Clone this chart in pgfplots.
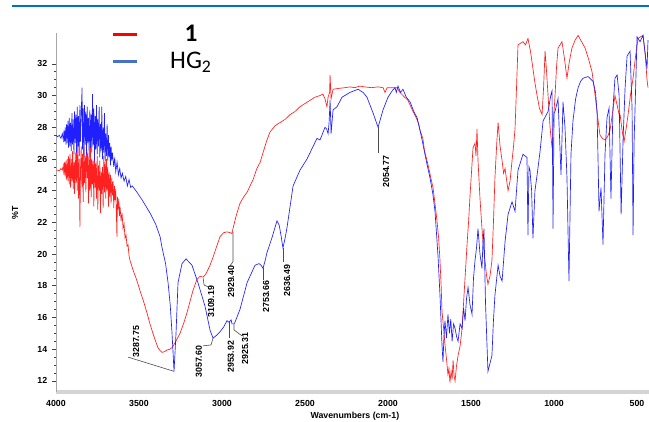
\documentclass[border=0pt]{standalone}
\usepackage{fontspec}
\setmainfont{Liberation Sans}
\newfontfamily\carlito{Carlito}
\usepackage{pgfplots}
\pgfplotsset{compat=1.18}
\definecolor{specred}{HTML}{FF2020}
\definecolor{specblue}{HTML}{2020FF}
\definecolor{legblue}{HTML}{4472C4}
\definecolor{rulebl}{HTML}{0070C0}
\definecolor{axband}{HTML}{D4D4D4}
\tikzset{
  leader/.style={gray!60!black, line width=0.45pt},
  peak/.style={rotate=90, anchor=west, inner sep=0pt, font=\fontsize{6.6}{7}\selectfont\bfseries},
}
\begin{document}
\begin{tikzpicture}
\useasboundingbox (0,0) rectangle (486.75pt,315.75pt);
% journal rule across the top
\draw[rulebl, line width=2.2pt] (9pt,311.25pt) -- (486.75pt,311.25pt);
\begin{axis}[
  at={(42pt,21.75pt)}, anchor=south west,
  scale only axis, width=444.75pt, height=269.25pt,
  x dir=reverse, xmin=428, xmax=4000, ymin=11.3, ymax=33.95,
  axis x line=bottom, axis y line=left,
  x axis line style={-, axband, line width=2.6pt},
  y axis line style={-, gray!70, line width=0.6pt},
  xtick={500,1000,...,4000}, minor x tick num=4,
  ytick={12,14,...,32}, minor y tick num=3,
  xtick align=center, ytick align=outside,
  major tick length=3pt, minor tick length=1.6pt,
  tick style={black!75, line width=0.5pt},
  x tick label style={yshift=-1pt},
  /pgf/number format/assume math mode=true,
  /pgf/number format/1000 sep={},
  tick label style={font=\fontsize{6.6}{7}\selectfont\bfseries},
  label style={font=\fontsize{6.6}{7}\selectfont\bfseries},
  xlabel={Wavenumbers (cm-1)}, ylabel={\%T},
  xlabel style={at={(axis description cs:0.504,-0.067)}, anchor=center},
  ylabel style={at={(axis description cs:-0.069,0.5)}, anchor=center},
  legend image code/.code={\draw[line width=2.2pt] (0pt,0pt) -- (18pt,0pt);},
  legend style={at={(axis description cs:0.094,1.03)}, anchor=north west,
    draw=none, fill=none, inner sep=0pt, row sep=2.5pt,
    font=\fontsize{19}{21}\selectfont\carlito,
    /tikz/every odd column/.append style={column sep=19pt}},
]
\addplot[specred, line width=0.5pt, forget plot] coordinates {
(4000,25.3)(3990,25.3)(3980,25.25)(3970,25.4)(3962,25.3)(3956,25.6)(3952,25.0)(3948,25.8)(3944,24.9)(3940,25.9)(3936,24.7)(3932,26.0)(3928,24.6)(3924,26.2)(3920,24.4)(3916,26.3)(3912,24.2)(3908,26.0)(3904,24.6)(3900,26.5)(3896,24.1)(3892,25.8)(3888,23.8)(3884,26.4)(3880,24.5)(3876,26.6)(3872,24.0)(3868,27.2)(3864,23.5)(3860,26.0)(3856,21.7)(3852,25.5)(3848,26.8)(3844,24.2)(3840,26.3)(3836,23.3)(3832,26.9)(3828,24.5)(3824,26.2)(3820,23.9)(3816,27.0)(3812,24.8)(3808,26.4)(3804,23.2)(3800,26.1)(3796,24.0)(3792,26.7)(3788,23.6)(3784,26.0)(3780,24.4)(3776,25.9)(3772,23.0)(3768,26.5)(3764,24.2)(3760,25.7)(3756,23.5)(3752,26.2)(3748,22.8)(3744,25.6)(3740,24.0)(3736,25.9)(3732,22.6)(3728,25.2)(3724,23.8)(3720,25.5)(3716,22.9)(3712,26.2)(3708,23.9)(3704,25.8)(3700,23.5)(3696,26.0)(3692,24.0)(3688,25.5)(3684,23.0)(3680,25.2)(3676,23.6)(3672,25.0)(3668,23.2)(3664,24.8)(3660,23.7)(3656,24.6)(3652,22.9)(3648,24.3)(3644,23.4)(3640,24.1)(3636,22.5)(3633,21.1)(3630,23.6)(3626,22.8)(3622,23.5)(3618,22.4)(3614,23.0)(3608,22.1)(3602,22.6)(3596,21.6)(3590,21.9)(3584,21.0)(3578,21.2)(3572,20.5)(3566,20.6)(3560,19.9)(3554,19.6)(3536,19.0)(3515,18.4)(3494,17.7)(3472,17.0)(3452,16.3)(3434,15.6)(3416,15.0)(3400,14.5)(3386,14.1)(3372,13.9)(3361,13.8)(3345,13.85)(3331,13.95)(3315,14.0)(3301,14.1)(3283,14.4)(3268,14.7)(3253,15.0)(3232,15.6)(3211,16.3)(3193,17.0)(3175,17.7)(3151,18.4)(3133,18.6)(3114,18.55)(3100,18.7)(3090,18.9)(3072,19.3)(3054,19.8)(3035,20.4)(3012,21.1)(2990,21.35)(2970,21.4)(2950,21.35)(2940,21.3)(2934,21.6)(2915,22.4)(2892,23.2)(2870,23.6)(2849,23.9)(2813,24.7)(2790,25.4)(2770,25.8)(2750,26.5)(2729,27.2)(2711,27.7)(2680,28.1)(2650,28.3)(2620,28.5)(2590,28.8)(2560,29.0)(2530,29.3)(2500,29.5)(2470,29.7)(2440,29.9)(2410,30.0)(2392,30.1)(2380,29.8)(2368,29.3)(2361,29.9)(2352,30.2)(2349,31.3)(2343,29.8)(2331,30.4)(2300,30.45)(2260,30.5)(2229,30.55)(2200,30.5)(2170,30.6)(2140,30.55)(2100,30.5)(2060,30.55)(2030,30.5)(2018,30.2)(2005,30.5)(1975,30.5)(1946,30.5)(1928,30.2)(1900,29.9)(1880,29.7)(1867,29.4)(1849,29.0)(1830,28.6)(1815,28.2)(1807,27.8)(1790,27.3)(1780,26.5)(1765,25.9)(1750,25.2)(1740,24.7)(1729,24.2)(1715,23.0)(1705,22.1)(1695,21.0)(1687,19.6)(1680,18.0)(1675,16.4)(1665,15.3)(1657,14.3)(1648,13.4)(1639,12.4)(1633,12.8)(1627,11.9)(1620,12.6)(1614,12.1)(1608,13.3)(1602,12.3)(1596,12.0)(1588,12.9)(1578,13.6)(1566,14.2)(1554,15.3)(1540,17.8)(1524,20.6)(1515,22.0)(1506,23.7)(1497,25.2)(1488,26.7)(1476,27.0)(1470,26.2)(1464,27.9)(1458,25.9)(1446,23.5)(1434,21.6)(1425,20.4)(1416,19.6)(1407,18.7)(1398,18.1)(1386,18.6)(1374,19.6)(1365,22.0)(1356,24.8)(1345,27.0)(1337,28.3)(1325,26.8)(1313,25.9)(1304,25.1)(1295,25.4)(1286,24.7)(1277,24.0)(1265,24.6)(1253,25.9)(1244,26.8)(1235,27.9)(1226,30.5)(1217,33.2)(1202,33.3)(1187,33.4)(1172,33.2)(1157,33.6)(1142,32.8)(1127,31.7)(1115,30.8)(1102,30.0)(1088,29.2)(1072,28.8)(1063,30.5)(1054,32.8)(1045,31.5)(1036,30.0)(1024,28.0)(1012,26.7)(1003,28.5)(994,30.0)(985,31.8)(976,33.0)(964,33.2)(952,33.4)(937,32.3)(922,31.1)(907,32.2)(892,33.0)(873,33.5)(855,33.8)(834,33.4)(813,33.0)(792,32.3)(771,31.5)(756,30.3)(741,29.0)(732,28.2)(723,27.5)(708,27.3)(693,27.2)(678,27.4)(663,27.8)(648,28.9)(633,30.0)(620,29.4)(608,28.8)(602,28.8)(590,27.8)(578,27.1)(566,27.9)(554,28.8)(540,30.0)(524,31.1)(510,32.4)(494,33.6)(480,33.7)(464,33.8)(450,32.5)(440,31.0)(434,30.5)
};
\addplot[specblue, line width=0.5pt, forget plot] coordinates {
(4000,27.5)(3990,27.4)(3980,27.5)(3970,27.3)(3962,27.6)(3956,27.2)(3952,27.8)(3948,27.1)(3944,28.0)(3940,26.9)(3936,28.2)(3932,27.0)(3928,28.4)(3924,26.7)(3920,28.6)(3916,26.8)(3912,28.3)(3908,26.5)(3904,28.9)(3900,26.9)(3896,28.5)(3892,26.3)(3888,29.0)(3884,27.0)(3880,28.8)(3876,26.4)(3872,29.3)(3868,26.8)(3864,28.7)(3860,26.2)(3856,29.4)(3852,27.1)(3848,28.9)(3843,30.5)(3840,26.6)(3836,29.2)(3832,26.0)(3828,29.4)(3824,26.9)(3820,29.0)(3816,26.3)(3812,29.3)(3808,27.0)(3804,28.6)(3800,26.1)(3796,29.1)(3792,26.7)(3788,28.8)(3784,26.4)(3780,30.1)(3776,26.9)(3772,29.2)(3768,25.9)(3764,28.7)(3760,26.6)(3756,29.4)(3752,26.3)(3748,28.5)(3744,26.8)(3740,29.3)(3736,26.1)(3732,28.2)(3728,26.5)(3724,29.3)(3720,26.0)(3716,28.0)(3712,26.4)(3708,28.9)(3704,25.8)(3700,27.6)(3696,26.2)(3692,28.2)(3688,25.9)(3684,27.5)(3680,26.1)(3676,27.0)(3672,25.6)(3668,26.8)(3664,25.9)(3660,26.4)(3652,25.5)(3646,26.1)(3640,25.2)(3632,25.8)(3624,25.0)(3616,25.4)(3608,24.8)(3600,25.1)(3590,24.6)(3580,24.9)(3570,24.3)(3560,24.7)(3550,24.2)(3540,24.3)(3512,23.9)(3480,23.4)(3434,22.6)(3400,21.9)(3373,21.1)(3361,20.4)(3340,19.4)(3325,18.2)(3312,16.8)(3301,15.0)(3289,12.6)(3277,15.0)(3265,18.2)(3241,19.4)(3217,19.7)(3181,19.3)(3145,18.2)(3102,16.7)(3072,15.2)(3054,14.7)(3030,14.9)(3012,15.1)(2990,15.4)(2970,15.8)(2958,15.7)(2945,15.85)(2940,15.6)(2928,15.6)(2922,15.7)(2892,16.5)(2849,18.2)(2801,19.3)(2777,19.4)(2765,19.3)(2753,19.1)(2740,19.6)(2729,20.1)(2700,21.0)(2669,22.1)(2655,21.8)(2645,21.2)(2633,20.4)(2620,21.0)(2608,21.7)(2590,23.0)(2572,24.3)(2530,25.3)(2488,26.0)(2428,27.3)(2410,27.2)(2398,27.5)(2380,28.0)(2370,27.9)(2361,27.6)(2355,28.3)(2349,29.7)(2343,27.6)(2331,29.1)(2307,29.3)(2277,29.9)(2229,30.2)(2181,30.4)(2150,30.2)(2127,29.9)(2090,28.9)(2060,28.0)(2030,29.1)(2000,29.9)(1975,30.3)(1958,30.5)(1950,30.2)(1940,30.6)(1925,30.2)(1910,30.4)(1890,29.9)(1867,29.6)(1845,29.0)(1825,28.6)(1805,27.7)(1789,26.9)(1770,25.9)(1747,24.8)(1730,23.8)(1717,22.7)(1699,19.9)(1687,17.4)(1675,14.3)(1669,13.2)(1663,14.8)(1657,15.8)(1648,14.7)(1639,16.2)(1630,15.0)(1622,15.9)(1614,14.5)(1605,15.6)(1596,15.3)(1587,14.8)(1578,14.5)(1566,15.6)(1554,15.3)(1545,16.6)(1536,15.8)(1527,17.2)(1518,17.9)(1506,16.8)(1494,16.2)(1485,18.5)(1476,19.6)(1467,20.4)(1458,21.6)(1446,20.0)(1434,19.1)(1428,20.8)(1422,21.6)(1413,17.0)(1404,14.3)(1398,12.6)(1386,13.1)(1374,13.6)(1365,15.8)(1356,17.4)(1337,19.3)(1325,18.6)(1313,18.3)(1295,20.8)(1277,22.5)(1253,23.3)(1235,22.7)(1217,25.3)(1187,26.3)(1163,26.1)(1157,21.2)(1151,25.5)(1145,25.3)(1135,24.0)(1127,21.0)(1115,24.0)(1102,25.0)(1084,26.5)(1066,28.4)(1036,29.0)(1018,30.1)(1012,30.3)(1006,21.6)(1000,28.9)(994,29.0)(976,29.8)(958,25.0)(946,29.6)(934,28.0)(922,24.8)(910,18.3)(898,26.3)(886,28.4)(870,29.8)(855,30.5)(840,30.9)(825,31.1)(795,31.2)(765,30.9)(750,30.2)(741,29.0)(735,26.0)(729,22.7)(717,24.2)(705,20.6)(693,26.3)(681,28.6)(669,29.2)(657,23.5)(645,29.2)(633,31.1)(620,31.3)(608,30.0)(596,22.5)(584,27.3)(572,30.5)(560,32.5)(542,32.8)(530,29.2)(524,21.2)(518,27.0)(512,29.2)(500,33.7)(482,33.4)(464,33.8)(440,31.7)(434,33.5)
};
\addlegendimage{color=red}
\addlegendentry{\makebox[36pt]{\textbf{1}}}
\addlegendimage{color=legblue}
\addlegendentry{\makebox[36pt]{HG\textsubscript{2}}}
% peak labels with leader lines
\draw[leader] (axis cs:3288,12.6) -- (axis cs:3566,13.5);
\node[peak] at (axis cs:3518,13.45) {3287.75};
\draw[leader] (axis cs:3054,14.7) -- (axis cs:3066,14.27) -- (axis cs:3114,14.21);
\node[peak] at (axis cs:3139,12.19) {3057.60};
\draw[leader] (axis cs:3114,18.5) -- (axis cs:3108,18.05) -- (axis cs:3084,17.93);
\node[peak] at (axis cs:3066,15.97) {3109.19};
\draw[leader] (axis cs:2934,21.4) -- (axis cs:2934,19.51) -- (axis cs:2952,19.26);
\node[peak] at (axis cs:2946,17.24) {2929.40};
\draw[leader] (axis cs:2958,15.7) -- (axis cs:2958,14.71);
\node[peak] at (axis cs:2946,12.50) {2953.92};
\draw[leader] (axis cs:2928,15.6) -- (axis cs:2928,15.22) -- (axis cs:2880,14.84);
\node[peak] at (axis cs:2861,13.01) {2925.31};
\draw[leader] (axis cs:2753,19.1) -- (axis cs:2753,18.37);
\node[peak] at (axis cs:2735,16.29) {2753.66};
\draw[leader] (axis cs:2633,20.4) -- (axis cs:2633,19.51);
\node[peak] at (axis cs:2608,17.30) {2636.49};
\draw[leader] (axis cs:2060,28.0) -- (axis cs:2060,26.38);
\node[peak] at (axis cs:2012,24.18) {2054.77};
\end{axis}
\end{tikzpicture}
\end{document}
